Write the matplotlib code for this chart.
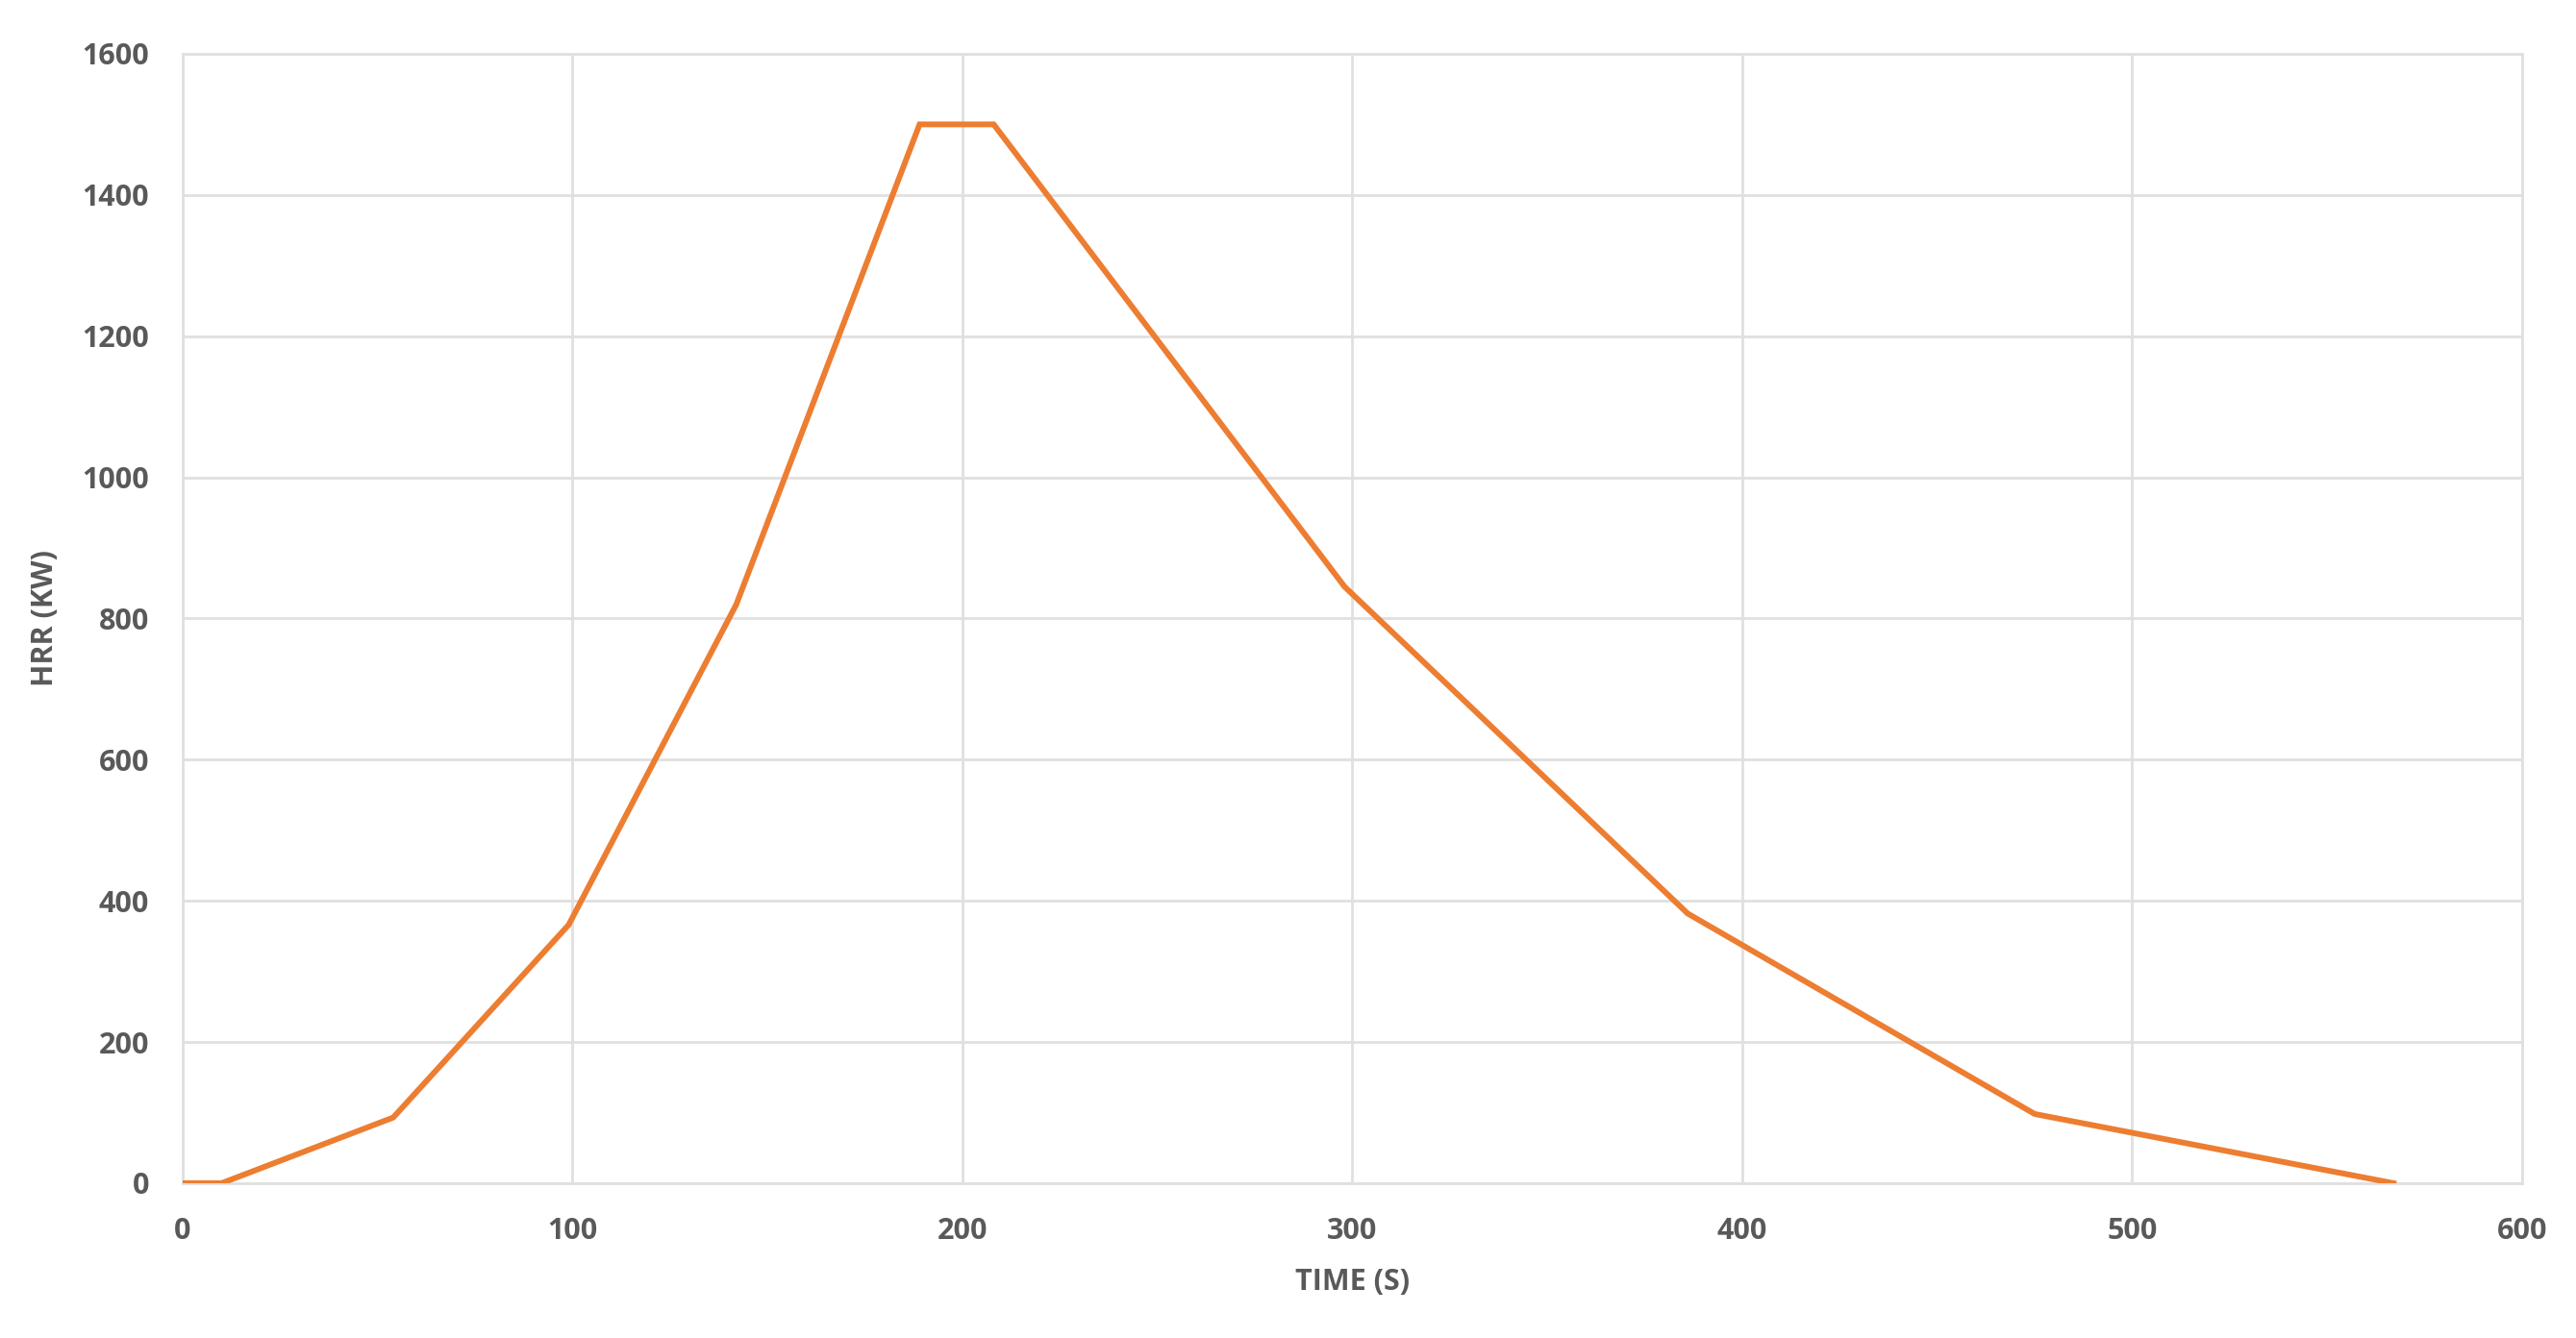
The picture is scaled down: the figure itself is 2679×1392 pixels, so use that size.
import matplotlib
matplotlib.use("Agg")
import matplotlib.pyplot as plt

# fire curve
time_s = [0, 10, 54, 99, 142, 189, 208, 298, 386, 475, 567]
hrr_kw = [0, 0, 93, 366, 820, 1500, 1500, 845, 382, 98, 0]

x_ticks = [0, 100, 200, 300, 400, 500, 600]
y_ticks = [0, 200, 400, 600, 800, 1000, 1200, 1400, 1600]

plt.rcParams['font.family'] = ['Open Sans', 'DejaVu Sans']

grid_col = '#e0e0e0'
text_col = '#595959'

fig = plt.figure(figsize=(26.79, 13.92), dpi=100)
ax = fig.add_axes([0.0709, 0.1157, 0.9082, 0.8441])

ax.plot(time_s, hrr_kw, color='#ED7D31', linewidth=4.3, solid_joinstyle='miter', zorder=3)

ax.set_xlim(0, 600)
ax.set_ylim(0, 1600)
ax.set_xticks(x_ticks)
ax.set_yticks(y_ticks)
ax.grid(True, color=grid_col, linewidth=2)
for s in ax.spines.values():
    s.set_color(grid_col)
    s.set_linewidth(2)
ax.tick_params(length=0, labelsize=22, labelcolor=text_col, pad=25)
for lbl in ax.get_xticklabels() + ax.get_yticklabels():
    lbl.set_fontweight('bold')

ax.set_xlabel('TIME (S)', fontsize=22, fontweight='bold', color=text_col, labelpad=17)
ax.set_ylabel('HRR (KW)', fontsize=22, fontweight='bold', color=text_col, labelpad=17)

fig.savefig('out.png', dpi=100, facecolor='white')
